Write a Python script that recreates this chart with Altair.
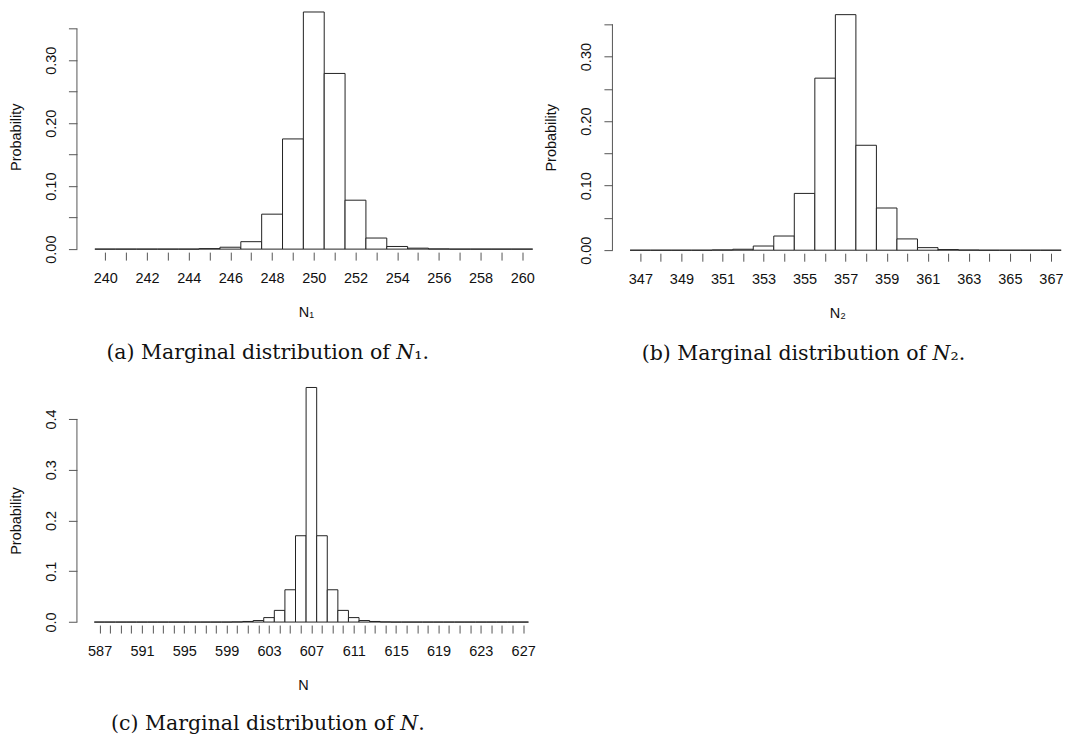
import altair as alt
import pandas as pd

# ---------------- data ----------------
n1_values = list(range(240, 261))
n1_probs = [0.0, 0.0, 0.0, 0.0, 0.0, 0.0008, 0.003, 0.0118, 0.0555, 0.175,
            0.3766, 0.279, 0.0777, 0.0176, 0.0042, 0.0015, 0.0003, 0.0, 0.0, 0.0, 0.0]

n2_values = list(range(347, 368))
n2_probs = [0.0, 0.0, 0.0, 0.0, 0.0005, 0.0015, 0.0065, 0.022, 0.088, 0.2666,
            0.365, 0.1626, 0.0654, 0.0175, 0.004, 0.001, 0.0003, 0.0, 0.0, 0.0, 0.0]

n_values = list(range(587, 628))
n_probs = [0.0] * 13 + [0.0003, 0.0012, 0.003, 0.0088, 0.023, 0.0636, 0.170, 0.462,
                        0.170, 0.0636, 0.023, 0.0088, 0.003, 0.0012, 0.0003] + [0.0] * 13

n1_xticks = list(range(240, 261))
n2_xticks = list(range(347, 368))
n_xticks = list(range(587, 628))
ab_yticks = [0.0, 0.05, 0.10, 0.15, 0.20, 0.25, 0.30, 0.35]
c_yticks = [0.0, 0.1, 0.2, 0.3, 0.4]

captions = ["(a) Marginal distribution of 𝑁₁.",
            "(b) Marginal distribution of 𝑁₂.",
            "(c) Marginal distribution of 𝑁."]

FONT = "Liberation Sans"
FS = 14.5
INK = "#222222"
AXIS_INK = "#555555"


def panel(vals, probs, xdom, ydom, width, height, xticks, xlabel_expr,
          yticks, ylabel_expr, ytop, xtitle, caption, cap_dx, cap_offset):
    df = pd.DataFrame({"v": vals, "p": probs})
    yaxis = alt.Axis(values=yticks, labelExpr=ylabel_expr,
                     domain=False, tickSize=8.5, tickColor=AXIS_INK,
                     labelAngle=270, labelAlign="center",
                     labelBaseline="bottom", labelPadding=10,
                     labelOverlap=False, labelFlush=False,
                     titlePadding=20, grid=False)
    yscale = alt.Scale(domain=ydom, nice=False, zero=True)
    bars = (
        alt.Chart(df)
        .transform_calculate(lo="datum.v - 0.5", hi="datum.v + 0.5")
        .mark_bar(fill="white", stroke=INK, strokeWidth=1)
        .encode(
            x=alt.X("lo:Q",
                    scale=alt.Scale(domain=xdom, nice=False, zero=False),
                    axis=alt.Axis(values=xticks, labelExpr=xlabel_expr,
                                  domain=False, offset=3, tickSize=8,
                                  tickColor=AXIS_INK, labelOverlap=False,
                                  labelFlush=False, labelPadding=11,
                                  titlePadding=21, grid=False),
                    title=xtitle),
            x2="hi:Q",
            y=alt.Y("p:Q", scale=yscale, axis=yaxis, title="Probability"),
            y2=alt.datum(0),
        )
    )
    line = (
        alt.Chart(pd.DataFrame({"y0": [0.0], "y1": [ytop]}))
        .mark_rule(color=AXIS_INK, strokeWidth=1)
        .encode(x=alt.value(0),
                y=alt.Y("y0:Q", scale=yscale, axis=yaxis, title="Probability"),
                y2="y1:Q")
    )
    return alt.layer(bars, line).properties(
        width=width, height=height,
        title=alt.TitleParams(text=caption, orient="bottom", anchor="middle",
                              frame="bounds", font="DejaVu Serif", fontSize=20.5,
                              fontWeight="normal", color="#111111",
                              offset=cap_offset, dx=cap_dx),
    )


pa = panel(n1_values, n1_probs, [238.64, 260.6], [0, 0.357], 458.3, 225.0,
           n1_xticks, "datum.value % 2 == 0 ? datum.label : ''",
           ab_yticks, "round(datum.value * 100) % 10 == 0 ? format(datum.value, '.2f') : ''",
           0.35, "N₁", captions[0], -4, 24)

pb = panel(n2_values, n2_probs, [345.64, 367.55], [0, 0.35], 450.2, 226.1,
           n2_xticks, "(datum.value - 347) % 2 == 0 ? datum.label : ''",
           ab_yticks, "round(datum.value * 100) % 10 == 0 ? format(datum.value, '.2f') : ''",
           0.35, "N₂", captions[1], 0, 24)

pc = panel(n_values, n_probs, [584.86, 627.55], [0, 0.4], 452.5, 203.3,
           n_xticks, "(datum.value - 587) % 4 == 0 ? datum.label : ''",
           c_yticks, "format(datum.value, '.1f')",
           0.4, "N", captions[2], -4, 22)

top = alt.hconcat(pa, pb, spacing=8)
chart = (
    alt.vconcat(top, pc, spacing=21)
    .properties(padding={"left": 0, "top": 3, "right": 0, "bottom": 0})
    .configure_view(stroke=None)
    .configure_axis(labelFont=FONT, labelFontSize=FS, labelColor="#111111",
                    titleFont=FONT, titleFontSize=FS, titleFontWeight="normal",
                    titleColor="#111111")
    .configure_title(font="DejaVu Serif")
)

chart.save("out.html", embed_options={"renderer": "svg", "actions": False})
